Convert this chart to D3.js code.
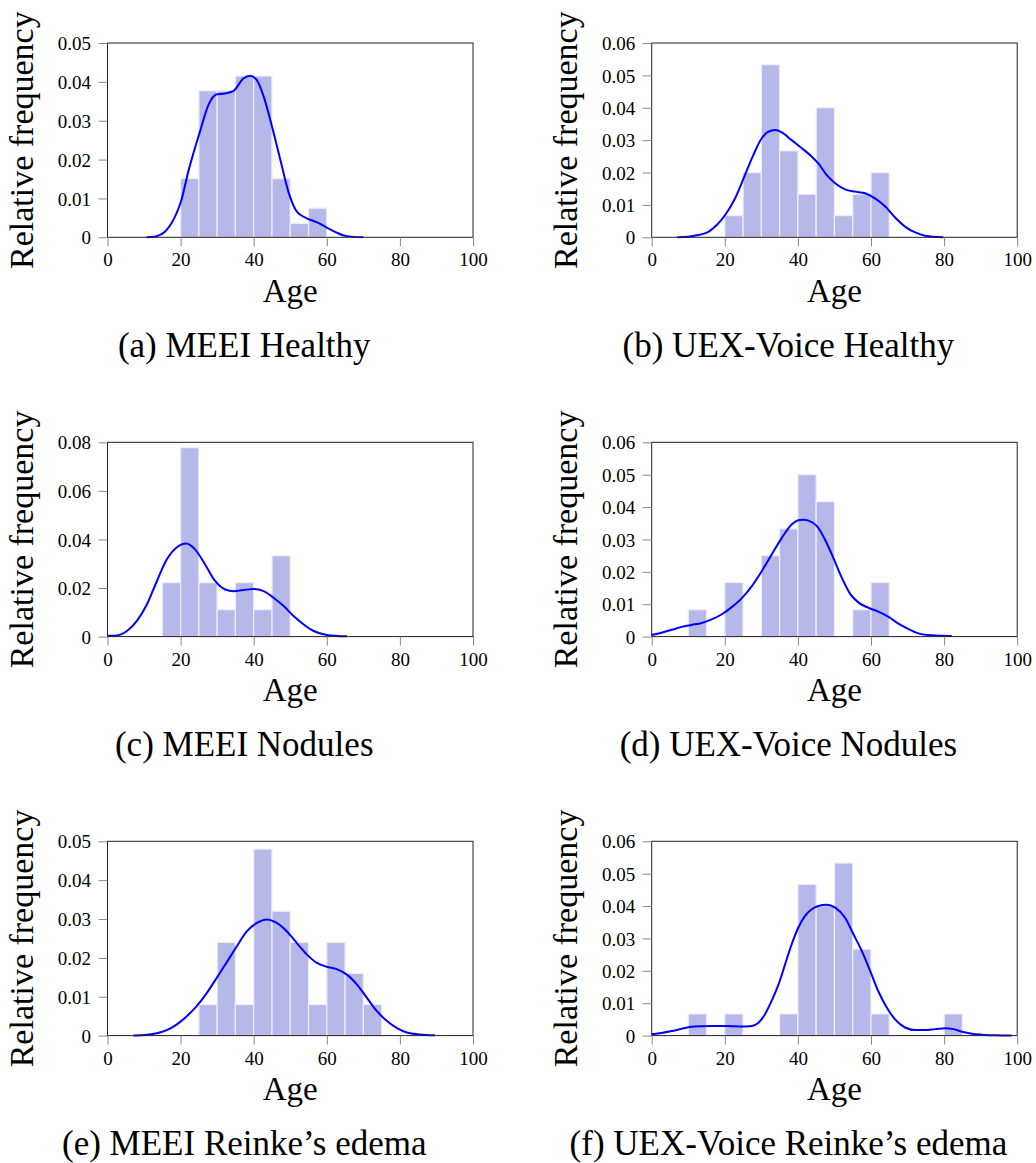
<!DOCTYPE html>
<html>
<head>
<meta charset="utf-8">
<script src="https://cdn.jsdelivr.net/npm/d3@7/dist/d3.min.js"></script>
<style>
  body { margin: 0; background: #fff; }
  svg text { font-family: "Liberation Serif", "DejaVu Serif", serif; fill: #000; }
</style>
</head>
<body>
<div id="chart"></div>
<script>
// Histogram bins (5-year wide, start age) and relative frequency per bin
const meeiHealthyBins = [20, 25, 30, 35, 40, 45, 50, 55];
const meeiHealthyFreq = [0.0151, 0.0377, 0.0377, 0.0415, 0.0415, 0.0151, 0.0036, 0.0075];
const meeiHealthyKdeAge = [10.7, 13.5, 16.2, 18.9, 20.1, 22.1, 25.3, 27.6, 29.9, 32.1, 34.4, 37.2, 39.0, 40.8, 42.6, 44.9, 47.2, 49.5, 51.8, 54.5, 57.2, 60.0, 62.7, 65.4, 70];
const meeiHealthyKdeVal = [0, 0.0003, 0.0019, 0.0062, 0.0092, 0.0169, 0.0272, 0.034, 0.0368, 0.037, 0.0376, 0.0409, 0.0416, 0.0405, 0.0366, 0.0289, 0.0203, 0.0117, 0.0066, 0.0049, 0.0039, 0.0025, 0.0012, 0.0003, 0];

const uexHealthyBins = [20, 25, 30, 35, 40, 45, 50, 55, 60];
const uexHealthyFreq = [0.0067, 0.02, 0.0533, 0.0267, 0.0133, 0.04, 0.0067, 0.0133, 0.02];
const uexHealthyKdeAge = [7.0, 10.0, 12.8, 15.5, 17.8, 20.1, 22.8, 25.5, 27.8, 30.1, 31.9, 33.8, 35.6, 38.3, 41.1, 43.8, 45.6, 47.9, 50.2, 52.9, 55.7, 58.4, 61.1, 63.9, 66.6, 69.3, 72.1, 74.8, 79.8];
const uexHealthyKdeVal = [0, 0.0002, 0.0007, 0.0017, 0.0038, 0.0069, 0.012, 0.0192, 0.0254, 0.0306, 0.0326, 0.0331, 0.0324, 0.030, 0.0275, 0.0249, 0.0228, 0.0192, 0.0167, 0.0148, 0.0141, 0.0136, 0.012, 0.0095, 0.0061, 0.0033, 0.0015, 0.0005, 0];

const meeiNodulesBins = [15, 20, 25, 30, 35, 40, 45];
const meeiNodulesFreq = [0.0222, 0.0778, 0.0222, 0.0111, 0.0222, 0.0111, 0.0333];
const meeiNodulesKdeAge = [0, 2.6, 5.3, 8.0, 10.8, 13.5, 16.2, 19.0, 21.5, 24.0, 26.7, 29.5, 32.2, 34.5, 37.2, 40.0, 42.7, 45.4, 48.2, 50.9, 53.6, 56.4, 60.0, 65.5];
const meeiNodulesKdeVal = [0.0003, 0.0005, 0.0023, 0.0064, 0.0133, 0.0228, 0.0317, 0.0368, 0.0383, 0.0358, 0.0297, 0.0228, 0.0194, 0.0187, 0.0192, 0.0196, 0.0187, 0.016, 0.0126, 0.0085, 0.0051, 0.0023, 0.0007, 0.0001];

const uexNodulesBins = [10, 20, 30, 35, 40, 45, 55, 60];
const uexNodulesFreq = [0.0083, 0.0167, 0.025, 0.0333, 0.05, 0.0417, 0.0083, 0.0167];
const uexNodulesKdeAge = [0, 2.7, 5.5, 8.2, 10.9, 13.7, 16.4, 19.2, 21.9, 24.6, 27.4, 30.1, 32.8, 35.6, 38.3, 40.1, 41.5, 42.9, 45.2, 47.4, 49.7, 52.0, 54.3, 56.6, 59.3, 62.0, 64.8, 67.5, 70.3, 73.0, 76.6, 82.1];
const uexNodulesKdeVal = [0.0005, 0.0012, 0.0021, 0.003, 0.0036, 0.0042, 0.0053, 0.0069, 0.0091, 0.0118, 0.0156, 0.0202, 0.0253, 0.0305, 0.0346, 0.0359, 0.0361, 0.0358, 0.0341, 0.030, 0.0243, 0.0182, 0.0132, 0.0105, 0.0089, 0.0077, 0.0061, 0.004, 0.0023, 0.001, 0.0004, 0.0002];

const meeiReinkeBins = [25, 30, 35, 40, 45, 50, 55, 60, 65, 70];
const meeiReinkeFreq = [0.008, 0.024, 0.008, 0.048, 0.032, 0.024, 0.008, 0.024, 0.016, 0.008];
const meeiReinkeKdeAge = [7.1, 10.8, 13.5, 16.2, 19.0, 21.7, 24.4, 27.2, 29.9, 32.7, 35.4, 38.1, 40.9, 43.6, 46.3, 49.1, 51.8, 54.5, 57.3, 60.0, 62.7, 65.5, 68.2, 71.0, 73.7, 76.4, 79.2, 81.9, 85.5, 89.6];
const meeiReinkeKdeVal = [0, 0.0002, 0.0006, 0.0014, 0.0029, 0.005, 0.0076, 0.011, 0.0149, 0.019, 0.023, 0.0268, 0.029, 0.0299, 0.029, 0.0268, 0.0238, 0.0209, 0.0187, 0.0177, 0.0171, 0.0157, 0.0132, 0.0097, 0.0063, 0.0038, 0.0019, 0.0008, 0.0003, 0.0001];

const uexReinkeBins = [10, 20, 35, 40, 45, 50, 55, 60, 80];
const uexReinkeFreq = [0.0067, 0.0067, 0.0067, 0.0467, 0.04, 0.0533, 0.0267, 0.0067, 0.0067];
const uexReinkeKdeAge = [0, 2.7, 5.5, 8.2, 10.9, 13.7, 16.4, 19.2, 21.9, 24.6, 27.4, 29.2, 31.0, 32.8, 34.7, 36.5, 38.3, 40.1, 41.9, 43.8, 45.6, 47.9, 50.2, 52.9, 55.2, 57.5, 59.8, 62.0, 64.3, 66.6, 69.3, 72.1, 74.8, 77.6, 80.3, 82.6, 84.9, 87.6, 90.3, 94.0, 98.5];
const uexReinkeKdeVal = [0.0004, 0.0008, 0.0014, 0.0021, 0.0027, 0.0029, 0.003, 0.003, 0.0029, 0.0028, 0.003, 0.004, 0.0066, 0.0107, 0.0158, 0.022, 0.0282, 0.0333, 0.0369, 0.039, 0.040, 0.0404, 0.0395, 0.0364, 0.0313, 0.0261, 0.0199, 0.0137, 0.0087, 0.005, 0.0025, 0.0017, 0.0017, 0.002, 0.0023, 0.002, 0.0012, 0.0006, 0.0003, 0.0001, 0];

const xTicks = [0, 20, 40, 60, 80, 100];
const yTicks05 = [0, 0.01, 0.02, 0.03, 0.04, 0.05];
const yTicks06 = [0, 0.01, 0.02, 0.03, 0.04, 0.05, 0.06];
const yTicks08 = [0, 0.02, 0.04, 0.06, 0.08];

const panels = [
  { caption: "(a) MEEI Healthy", bins: meeiHealthyBins, freq: meeiHealthyFreq, kdeAge: meeiHealthyKdeAge, kdeVal: meeiHealthyKdeVal, yTicks: yTicks05, col: 0, row: 0 },
  { caption: "(b) UEX-Voice Healthy", bins: uexHealthyBins, freq: uexHealthyFreq, kdeAge: uexHealthyKdeAge, kdeVal: uexHealthyKdeVal, yTicks: yTicks06, col: 1, row: 0 },
  { caption: "(c) MEEI Nodules", bins: meeiNodulesBins, freq: meeiNodulesFreq, kdeAge: meeiNodulesKdeAge, kdeVal: meeiNodulesKdeVal, yTicks: yTicks08, col: 0, row: 1 },
  { caption: "(d) UEX-Voice Nodules", bins: uexNodulesBins, freq: uexNodulesFreq, kdeAge: uexNodulesKdeAge, kdeVal: uexNodulesKdeVal, yTicks: yTicks06, col: 1, row: 1 },
  { caption: "(e) MEEI Reinke\u2019s edema", bins: meeiReinkeBins, freq: meeiReinkeFreq, kdeAge: meeiReinkeKdeAge, kdeVal: meeiReinkeKdeVal, yTicks: yTicks05, col: 0, row: 2 },
  { caption: "(f) UEX-Voice Reinke\u2019s edema", bins: uexReinkeBins, freq: uexReinkeFreq, kdeAge: uexReinkeKdeAge, kdeVal: uexReinkeKdeVal, yTicks: yTicks06, col: 1, row: 2 },
];

const width = 1036, height = 1163;
const plotLefts = [107.5, 651.7];
const plotTops = [43, 442.3, 841.3];
const plotW = 365.5, plotH = 194.3;
const binWidth = 5;
const serif = "'Liberation Serif', 'DejaVu Serif', serif";

const svg = d3.select("#chart").append("svg")
  .attr("width", width)
  .attr("height", height);

panels.forEach((p) => {
  const left = plotLefts[p.col];
  const top = plotTops[p.row];
  const g = svg.append("g").attr("transform", `translate(${left},${top})`);

  const x = d3.scaleLinear().domain([0, 100]).range([0, plotW]);
  const y = d3.scaleLinear().domain([0, d3.max(p.yTicks)]).range([plotH, 0]);

  // histogram bars
  g.selectAll("rect.bar")
    .data(p.bins.map((b, i) => ({ start: b, value: p.freq[i] })))
    .enter()
    .append("rect")
    .attr("class", "bar")
    .attr("x", (d) => x(d.start))
    .attr("y", (d) => y(d.value))
    .attr("width", (d) => x(d.start + binWidth) - x(d.start))
    .attr("height", (d) => y(0) - y(d.value))
    .attr("fill", "#b7b8ea")
    .attr("stroke", "#eeeefb")
    .attr("stroke-width", 1.2);

  // density curve
  const line = d3.line()
    .x((d) => x(d[0]))
    .y((d) => y(d[1]))
    .curve(d3.curveMonotoneX);

  g.append("path")
    .datum(p.kdeAge.map((a, i) => [a, p.kdeVal[i]]))
    .attr("d", line)
    .attr("fill", "none")
    .attr("stroke", "#0000ff")
    .attr("stroke-width", 2);

  // frame
  g.append("rect")
    .attr("x", 0).attr("y", 0)
    .attr("width", plotW).attr("height", plotH)
    .attr("fill", "none")
    .attr("stroke", "#222")
    .attr("stroke-width", 1);

  // axes (outward grey ticks)
  const xAxis = g.append("g")
    .attr("transform", `translate(0,${plotH})`)
    .call(d3.axisBottom(x).tickValues(xTicks).tickSize(9).tickPadding(5).tickFormat(d3.format("d")));
  xAxis.attr("font-family", serif);
  xAxis.select(".domain").remove();
  xAxis.selectAll(".tick line").attr("stroke", "#888");
  xAxis.selectAll(".tick text")
    .style("font-family", serif)
    .attr("font-size", 19)
    .attr("y", 29)
    .attr("dy", 0);

  const yAxis = g.append("g")
    .call(d3.axisLeft(y).tickValues(p.yTicks).tickSize(9).tickFormat((d) => d === 0 ? "0" : d3.format(".2f")(d)));
  yAxis.attr("font-family", serif);
  yAxis.select(".domain").remove();
  yAxis.selectAll(".tick line").attr("stroke", "#888");
  yAxis.selectAll(".tick text")
    .style("font-family", serif)
    .attr("font-size", 19)
    .attr("x", -16.5)
    .attr("dy", "0.35em");

  // axis labels
  g.append("text")
    .attr("x", plotW / 2)
    .attr("y", 259)
    .attr("text-anchor", "middle")
    .attr("font-size", 33)
    .text("Age");

  g.append("text")
    .attr("transform", `translate(-74.5,${plotH / 2}) rotate(-90)`)
    .attr("text-anchor", "middle")
    .attr("font-size", 34)
    .text("Relative frequency");

  // caption
  svg.append("text")
    .attr("x", left + plotW / 2 - 46)
    .attr("y", top + 314)
    .attr("text-anchor", "middle")
    .attr("font-size", 35)
    .text(p.caption);
});
</script>
</body>
</html>
